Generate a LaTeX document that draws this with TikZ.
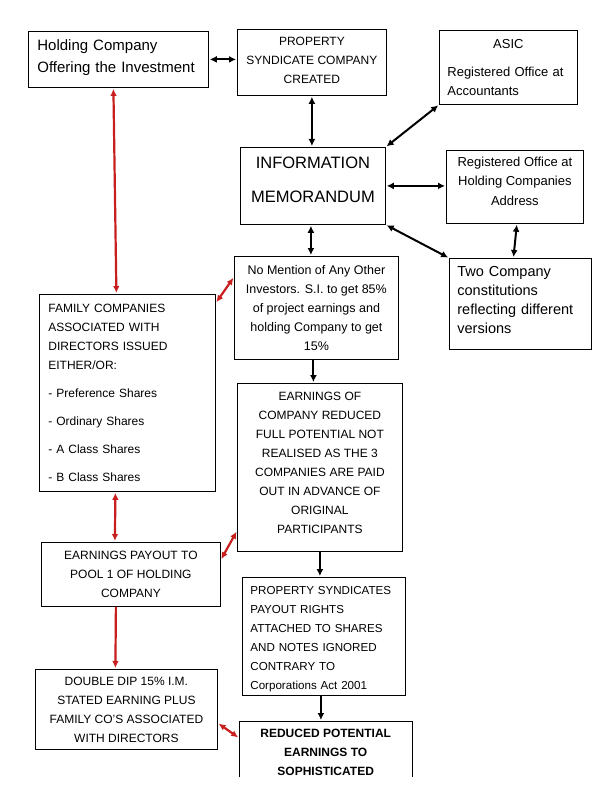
\documentclass[tikz,border=0pt]{standalone}
\usepackage{fontspec}
\setmainfont{Liberation Sans}
\usetikzlibrary{arrows.meta}
\definecolor{linkred}{RGB}{200,30,30}

\begin{document}
\begin{tikzpicture}[x=1pt,y=-1pt,
    box/.style={draw, line width=0.8pt, anchor=north west, inner sep=0pt, align=center},
    blk/.style={line width=2pt, shorten <=1pt, shorten >=1pt, {Latex[length=7pt,width=7pt]}-{Latex[length=7pt,width=7pt]}},
    onew/.style={line width=2pt, shorten >=1pt, -{Latex[length=7pt,width=7pt]}},
    redlink/.style={linkred, line width=2.2pt, shorten <=1pt, shorten >=1pt, {Latex[length=7pt,width=6.5pt]}-{Latex[length=7pt,width=6.5pt]}},
    redone/.style={linkred, line width=2.2pt, shorten >=1pt, -{Latex[length=7pt,width=6.5pt]}}]
    \useasboundingbox[fill=white] (0,0) rectangle (592,794);
    % top row
    \node[box, minimum width=180pt, minimum height=56pt, text width=162pt, align=left, text depth=29pt, font=\fontsize{15}{22}\selectfont] (holding) at (28,31) {Holding Company\\Offering the Investment};
    \node[box, minimum width=149pt, minimum height=66pt, text depth=5pt, font=\fontsize{12}{19}\selectfont] (prop) at (237,29) {PROPERTY\\SYNDICATE COMPANY\\CREATED};
    \node[box, minimum width=138pt, minimum height=74pt, text width=122pt, align=left, font=\fontsize{13}{19}\selectfont] (asic) at (439,30) {{\centering ASIC\par}\vspace{9pt}Registered Office at\\Accountants};
    % memorandum and its offices
    \node[box, minimum width=145pt, minimum height=77pt, text depth=12pt, font=\fontsize{16.5}{34}\selectfont] (info) at (240,147) {INFORMATION\\MEMORANDUM};
    \node[box, minimum width=137pt, minimum height=73pt, text depth=12pt, font=\fontsize{13}{19.5}\selectfont] (regoff) at (446,150) {Registered Office at\\Holding Companies\\Address};
    \node[box, minimum width=142pt, minimum height=91pt, text width=126pt, align=left, text depth=65pt, font=\fontsize{14.5}{19}\selectfont] (two) at (449,258) {Two Company\\constitutions\\reflecting different\\versions};
    \node[box, minimum width=164pt, minimum height=103pt, font=\fontsize{12.5}{19}\selectfont] (nomention) at (234,256) {No Mention of Any Other\\Investors. S.I. to get 85\%\\of project earnings and\\holding Company to get\\15\%};
    % left column
    \node[box, minimum width=176pt, minimum height=197pt, text width=158pt, align=left, font=\fontsize{12}{19}\selectfont] (family) at (39,294) {FAMILY COMPANIES\\ASSOCIATED WITH\\DIRECTORS ISSUED\\EITHER/OR:\\[9pt]- Preference Shares\\[9pt]- Ordinary Shares\\[9pt]- A Class Shares\\[9pt]- B Class Shares};
    \node[box, minimum width=179pt, minimum height=64pt, font=\fontsize{12}{19}\selectfont] (payout) at (41,542) {EARNINGS PAYOUT TO\\POOL 1 OF HOLDING\\COMPANY};
    \node[box, minimum width=182pt, minimum height=80pt, font=\fontsize{12}{19}\selectfont] (doubledip) at (35,669) {DOUBLE DIP 15\% I.M.\\STATED EARNING PLUS\\FAMILY CO’S ASSOCIATED\\WITH DIRECTORS};
    % middle column
    \node[box, minimum width=165pt, minimum height=168pt, text depth=10pt, font=\fontsize{12}{19}\selectfont] (earnings) at (237,383) {EARNINGS OF\\COMPANY REDUCED\\FULL POTENTIAL NOT\\REALISED AS THE 3\\COMPANIES ARE PAID\\OUT IN ADVANCE OF\\ORIGINAL\\PARTICIPANTS};
    \node[box, minimum width=163pt, minimum height=118pt, text width=147pt, align=left, text depth=91pt, font=\fontsize{11.6}{19}\selectfont] (propsynd) at (242,577) {PROPERTY SYNDICATES\\PAYOUT RIGHTS\\ATTACHED TO SHARES\\AND NOTES IGNORED\\CONTRARY TO\\Corporations Act 2001};
    \node[anchor=north west, inner sep=0pt, minimum width=173pt, minimum height=56pt, align=center, text height=52pt, font=\fontsize{12}{19}\selectfont\bfseries] (reduced) at (239,721) {REDUCED POTENTIAL\\EARNINGS TO\\SOPHISTICATED};
    \draw[line width=0.8pt] (reduced.south west) |- (reduced.north east) -- (reduced.south east);
    % black connectors
    \draw[blk] (holding.east) -- (holding.east -| prop.west);
    \draw[blk] (prop.south) -- (prop.south |- info.north);
    \draw[blk] (asic.south west) -- (info.north east);
    \draw[blk] (info.east) -- (info.east -| regoff.west);
    \draw[blk] (info.south east) -- (two.north west);
    \draw[blk] ([xshift=2pt]regoff.south) -- ([xshift=-7pt]two.north);
    \draw[blk] ([xshift=-2pt]info.south) -- ([xshift=-2pt]info.south |- nomention.north);
    \draw[onew] ([xshift=-3pt]nomention.south) -- ([xshift=-3pt]nomention.south |- earnings.north);
    \draw[onew] (earnings.south) -- (earnings.south |- propsynd.north);
    \draw[onew] ([xshift=-3pt]propsynd.south) -- ([xshift=-3pt]propsynd.south |- reduced.north);
    % red connectors
    \draw[redlink] ([xshift=-5pt]holding.south) -- ([xshift=-11pt]family.north);
    \draw[redlink] ([yshift=-9pt]family.north east) -- ([yshift=-21pt]nomention.north west);
    \draw[redlink] ([xshift=-12pt]family.south) -- ([xshift=-16pt]payout.north);
    \draw[redlink] ([yshift=-18pt]payout.north east) -- ([yshift=21pt]earnings.south west);
    \draw[redone] ([xshift=-15pt]payout.south) -- ([xshift=-11pt]doubledip.north);
    \draw[redlink] ([yshift=-54pt]doubledip.north east) -- ([yshift=-17pt]reduced.north west);
\end{tikzpicture}
\end{document}
